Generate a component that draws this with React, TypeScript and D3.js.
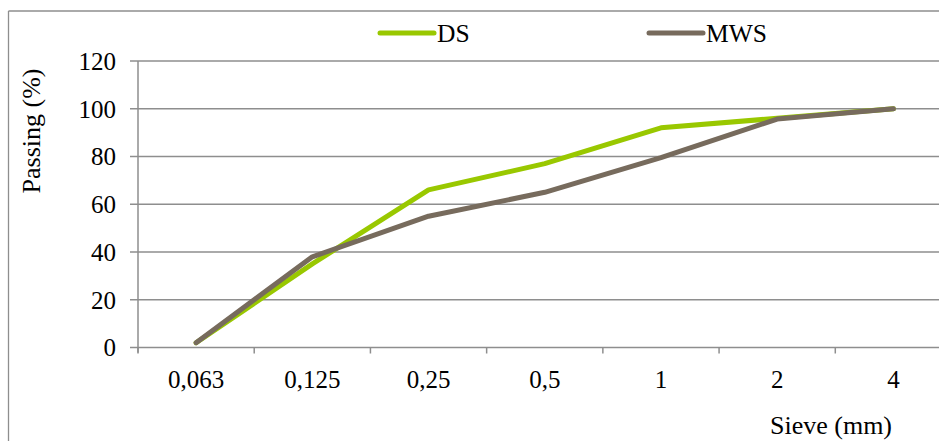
import React from "react";
import * as d3 from "d3";

const categories = ["0,063", "0,125", "0,25", "0,5", "1", "2", "4"];
const dsValues = [2, 35, 66, 77, 92, 96, 100];
const mwsValues = [2, 38, 55, 65, 79.5, 95.7, 100];
const yTicks = [0, 20, 40, 60, 80, 100, 120];
const seriesNames = ["DS", "MWS"];

const W = 939;
const H = 441;
const FONT = "'Liberation Serif', 'Times New Roman', serif";
const GREEN = "#99C800";
const BROWN = "#776B5D";
const GRID = "#8E8E8E";

export default function App() {
  const x = d3.scaleBand<string>().domain(categories).range([138, 951.5]);
  const y = d3.scaleLinear().domain([0, 120]).range([347.5, 61]);
  const line = d3
    .line<number>()
    .x((_, i) => (x(categories[i]) as number) + x.bandwidth() / 2)
    .y((d) => y(d));

  const series = [
    { name: seriesNames[0], values: dsValues, color: GREEN },
    { name: seriesNames[1], values: mwsValues, color: BROWN },
  ];
  const legendPos = [
    { lx: 380, tx: 437 },
    { lx: 649, tx: 706 },
  ];

  return (
    <svg
      width={W}
      height={H}
      style={{ position: "fixed", left: 0, top: 0, background: "#fff" }}
    >
      {/* outer frame */}
      <line x1={8.5} y1={11} x2={8.5} y2={H} stroke={GRID} strokeWidth={1.3} />
      <line x1={8.5} y1={11} x2={W} y2={11} stroke={GRID} strokeWidth={1.3} />

      {/* gridlines */}
      {yTicks.map((t) => (
        <g key={t}>
          <line
            x1={130}
            x2={W}
            y1={y(t)}
            y2={y(t)}
            stroke={GRID}
            strokeWidth={1.5}
          />
          <text
            x={116}
            y={y(t)}
            dy="0.35em"
            textAnchor="end"
            fontFamily={FONT}
            fontSize={25}
            fill="#000"
          >
            {t}
          </text>
        </g>
      ))}
      {/* y axis */}
      <line x1={138} x2={138} y1={y(120)} y2={y(0) + 5} stroke={GRID} strokeWidth={1.5} />
      {/* x ticks */}
      {categories.concat(["__end"]).map((c, i) => {
        const xp = 138 + i * x.step();
        return (
          <line
            key={c}
            x1={xp}
            x2={xp}
            y1={y(0)}
            y2={y(0) + 6}
            stroke={GRID}
            strokeWidth={1.5}
          />
        );
      })}
      {categories.map((c) => (
        <text
          key={c}
          x={(x(c) as number) + x.bandwidth() / 2}
          y={388}
          textAnchor="middle"
          fontFamily={FONT}
          fontSize={25}
          fill="#000"
        >
          {c}
        </text>
      ))}

      {/* series */}
      {series.map((s) => (
        <path
          key={s.name}
          d={line(s.values) || ""}
          fill="none"
          stroke={s.color}
          strokeWidth={5}
          strokeLinecap="round"
          strokeLinejoin="round"
        />
      ))}

      {/* legend */}
      {series.map((s, i) => (
        <g key={s.name}>
          <line
            x1={legendPos[i].lx}
            x2={legendPos[i].lx + 54}
            y1={33}
            y2={33}
            stroke={s.color}
            strokeWidth={5}
            strokeLinecap="round"
          />
          <text
            x={legendPos[i].tx}
            y={42}
            fontFamily={FONT}
            fontSize={25.5}
            fill="#000"
          >
            {s.name}
          </text>
        </g>
      ))}

      {/* axis titles */}
      <text
        transform={`translate(40,131) rotate(-90)`}
        textAnchor="middle"
        fontFamily={FONT}
        fontSize={26}
        fill="#000"
      >
        Passing (%)
      </text>
      <text
        x={831}
        y={434}
        textAnchor="middle"
        fontFamily={FONT}
        fontSize={26}
        fill="#000"
      >
        Sieve (mm)
      </text>
    </svg>
  );
}
